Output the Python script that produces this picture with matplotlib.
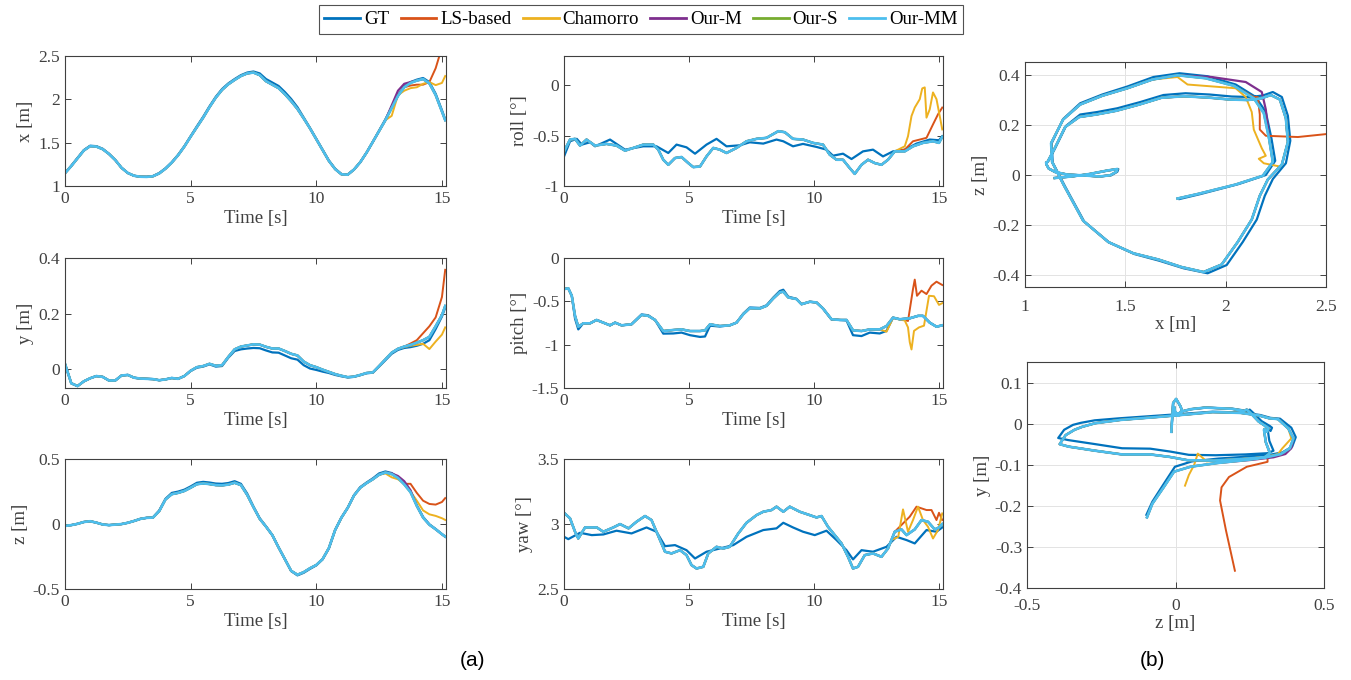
import numpy as np
import matplotlib.pyplot as plt
from matplotlib.ticker import FormatStrFormatter

plt.rcParams['font.family'] = ['Liberation Serif', 'DejaVu Serif']
plt.rcParams['axes.unicode_minus'] = False

# ---- position data (common time grid, used for time plots and trajectories)
t_pos = [0, 0.25, 0.5, 0.75, 1, 1.25, 1.5, 1.75, 2, 2.25, 2.5, 2.75, 3, 3.25, 3.5, 3.75,
         4, 4.25, 4.5, 4.75, 5, 5.25, 5.5, 5.75, 6, 6.25, 6.5, 6.75, 7, 7.25, 7.5, 7.75,
         8, 8.25, 8.5, 8.75, 9, 9.25, 9.5, 9.75, 10, 10.25, 10.5, 10.75, 11, 11.25, 11.5,
         11.75, 12, 12.25, 12.5, 12.75, 13, 13.25, 13.5, 13.75, 14, 14.25, 14.5, 14.75, 15, 15.13]

gt_x = [1.148, 1.235, 1.325, 1.415, 1.465, 1.46, 1.43, 1.372, 1.30, 1.21, 1.15, 1.118, 1.107,
        1.107, 1.115, 1.15, 1.205, 1.275, 1.36, 1.46, 1.575, 1.69, 1.80, 1.92, 2.03, 2.12,
        2.185, 2.235, 2.28, 2.31, 2.322, 2.30, 2.235, 2.195, 2.155, 2.085, 2.005, 1.91, 1.79,
        1.67, 1.545, 1.42, 1.295, 1.2, 1.138, 1.133, 1.19, 1.275, 1.385, 1.51, 1.64, 1.77,
        1.91, 2.05, 2.15, 2.20, 2.228, 2.247, 2.20, 2.065, 1.875, 1.77]
mm_x = [1.148, 1.23, 1.32, 1.41, 1.46, 1.455, 1.425, 1.37, 1.30, 1.21, 1.15, 1.118, 1.107,
        1.105, 1.112, 1.145, 1.20, 1.27, 1.355, 1.455, 1.57, 1.68, 1.79, 1.91, 2.02, 2.11,
        2.175, 2.225, 2.27, 2.30, 2.31, 2.28, 2.21, 2.17, 2.13, 2.06, 1.98, 1.89, 1.78,
        1.665, 1.54, 1.415, 1.29, 1.195, 1.135, 1.13, 1.19, 1.275, 1.385, 1.51, 1.635, 1.76,
        1.90, 2.04, 2.14, 2.19, 2.217, 2.235, 2.185, 2.05, 1.86, 1.76]

gt_y = [0.020, -0.05, -0.06, -0.043, -0.032, -0.024, -0.027, -0.040, -0.040, -0.022, -0.020,
        -0.030, -0.033, -0.034, -0.035, -0.039, -0.036, -0.031, -0.034, -0.024, -0.006, 0.006,
        0.010, 0.018, 0.010, 0.012, 0.042, 0.066, 0.072, 0.075, 0.077, 0.076, 0.068, 0.061,
        0.060, 0.050, 0.040, 0.035, 0.015, 0.003, -0.002, -0.008, -0.013, -0.020, -0.025,
        -0.029, -0.027, -0.021, -0.014, -0.012, 0.010, 0.033, 0.056, 0.070, 0.077, 0.080,
        0.085, 0.092, 0.105, 0.145, 0.19, 0.222]
mm_y = [0.020, -0.05, -0.06, -0.043, -0.032, -0.024, -0.027, -0.040, -0.040, -0.022, -0.020,
        -0.030, -0.033, -0.034, -0.035, -0.039, -0.036, -0.031, -0.034, -0.024, -0.005, 0.008,
        0.012, 0.020, 0.013, 0.015, 0.045, 0.072, 0.082, 0.086, 0.090, 0.089, 0.081, 0.075,
        0.075, 0.066, 0.056, 0.050, 0.028, 0.015, 0.008, -0.001, -0.009, -0.017, -0.023,
        -0.028, -0.026, -0.020, -0.013, -0.011, 0.012, 0.036, 0.060, 0.074, 0.082, 0.088,
        0.096, 0.105, 0.117, 0.155, 0.195, 0.228]

gt_z = [-0.014, -0.008, 0.002, 0.016, 0.022, 0.011, -0.003, -0.008, -0.004, 0.000, 0.010,
        0.024, 0.040, 0.048, 0.052, 0.105, 0.195, 0.24, 0.25, 0.265, 0.29, 0.318, 0.325, 0.32,
        0.312, 0.31, 0.316, 0.33, 0.31, 0.235, 0.135, 0.045, -0.018, -0.085, -0.18, -0.27,
        -0.362, -0.395, -0.375, -0.345, -0.318, -0.272, -0.188, -0.048, 0.048, 0.125, 0.222,
        0.285, 0.32, 0.352, 0.39, 0.405, 0.393, 0.36, 0.31, 0.25, 0.145, 0.055, -0.002,
        -0.038, -0.078, -0.098]
mm_z = [-0.014, -0.008, 0.002, 0.016, 0.022, 0.011, -0.003, -0.008, -0.004, 0.000, 0.010,
        0.024, 0.040, 0.048, 0.050, 0.10, 0.19, 0.23, 0.24, 0.255, 0.28, 0.307, 0.313, 0.308,
        0.30, 0.298, 0.304, 0.318, 0.30, 0.225, 0.13, 0.04, -0.02, -0.085, -0.18, -0.27,
        -0.36, -0.39, -0.37, -0.34, -0.315, -0.27, -0.185, -0.045, 0.05, 0.125, 0.22, 0.28,
        0.315, 0.345, 0.38, 0.397, 0.385, 0.355, 0.305, 0.245, 0.14, 0.05, -0.005, -0.04,
        -0.078, -0.096]

# end segments where the other methods leave the common path
t_tail = [12.75, 13.0, 13.25, 13.5, 13.75, 14.0, 14.25, 14.5, 14.75, 15.0, 15.13]
ls_x_tail = [1.76, 1.90, 2.04, 2.14, 2.16, 2.17, 2.17, 2.20, 2.36, 2.60, 2.75]
ls_y_tail = [0.036, 0.060, 0.074, 0.082, 0.093, 0.105, 0.13, 0.155, 0.187, 0.26, 0.358]
ls_z_tail = [0.397, 0.385, 0.355, 0.31, 0.31, 0.24, 0.18, 0.155, 0.15, 0.17, 0.20]
ch_x_tail = [1.76, 1.81, 2.05, 2.10, 2.13, 2.14, 2.18, 2.20, 2.165, 2.19, 2.27]
ch_y_tail = [0.036, 0.060, 0.074, 0.080, 0.085, 0.088, 0.092, 0.073, 0.10, 0.125, 0.151]
ch_z_tail = [0.39, 0.36, 0.345, 0.31, 0.25, 0.18, 0.105, 0.075, 0.063, 0.045, 0.032]
om_x_tail = [1.76, 1.93, 2.10, 2.18, 2.20, 2.217, 2.235, 2.185, 2.05, 1.86, 1.76]
om_y_tail = [0.036, 0.060, 0.074, 0.082, 0.088, 0.096, 0.105, 0.117, 0.155, 0.195, 0.228]
om_z_tail = [0.397, 0.39, 0.37, 0.33, 0.26, 0.14, 0.05, -0.005, -0.04, -0.078, -0.096]

# ---- orientation data
t_roll = [0, 0.24, 0.44, 0.64, 0.9, 1.24, 1.7, 2.1, 2.44, 2.77, 3.17, 3.57, 3.77, 3.97, 4.17,
          4.44, 4.7, 4.97, 5.17, 5.44, 5.7, 5.97, 6.23, 6.5, 6.9, 7.3, 7.7, 8.1, 8.57, 8.83,
          9.16, 9.56, 9.96, 10.36, 10.63, 10.9, 11.16, 11.43, 11.63, 11.9, 12.16, 12.43, 12.7,
          12.96, 13.23, 13.63, 13.96, 14.36, 14.76, 15.0, 15.13]
mm_roll = [-0.657, -0.54, -0.533, -0.6, -0.54, -0.6, -0.583, -0.6, -0.65, -0.623, -0.59, -0.59,
           -0.64, -0.74, -0.79, -0.723, -0.713, -0.773, -0.813, -0.807, -0.707, -0.623, -0.64,
           -0.673, -0.623, -0.557, -0.533, -0.523, -0.457, -0.467, -0.533, -0.54, -0.573, -0.59,
           -0.69, -0.74, -0.74, -0.823, -0.88, -0.79, -0.74, -0.773, -0.79, -0.74, -0.657,
           -0.657, -0.607, -0.573, -0.557, -0.573, -0.513]
t_roll_gt = [0, 0.24, 0.51, 0.71, 1.04, 1.24, 1.84, 2.44, 3.17, 3.7, 4.17, 4.5, 4.9, 5.24, 5.7,
             6.1, 6.5, 7.03, 7.43, 7.97, 8.5, 8.77, 9.16, 9.56, 10.1, 10.5, 10.76, 11.16, 11.5,
             11.96, 12.36, 12.76, 13.16, 13.63, 14.1, 14.63, 15.0, 15.13]
gt_roll = [-0.707, -0.557, -0.533, -0.59, -0.567, -0.607, -0.54, -0.64, -0.607, -0.607, -0.673,
           -0.59, -0.617, -0.68, -0.59, -0.533, -0.607, -0.597, -0.567, -0.58, -0.54, -0.557,
           -0.607, -0.583, -0.613, -0.64, -0.70, -0.68, -0.733, -0.657, -0.64, -0.707, -0.657,
           -0.64, -0.58, -0.54, -0.547, -0.507]
t_roll_ls = [13.63, 13.96, 14.23, 14.5, 14.76, 14.96, 15.13]
ls_roll = [-0.64, -0.557, -0.54, -0.523, -0.39, -0.29, -0.223]
t_roll_ch = [13.5, 13.63, 13.76, 13.9, 14.03, 14.23, 14.33, 14.43, 14.5, 14.63, 14.76, 14.9,
             15.03, 15.13]
ch_roll = [-0.623, -0.607, -0.507, -0.307, -0.223, -0.14, -0.033, -0.023, -0.323, -0.24,
           -0.073, -0.14, -0.307, -0.44]

t_pitch = [0, 0.17, 0.31, 0.44, 0.57, 0.77, 1.04, 1.3, 1.57, 1.84, 2.04, 2.3, 2.7, 3.1, 3.37,
           3.64, 3.97, 4.37, 4.7, 5.04, 5.44, 5.64, 5.84, 6.23, 6.63, 6.9, 7.17, 7.43, 7.83,
           8.1, 8.37, 8.63, 8.77, 8.97, 9.3, 9.5, 9.83, 10.1, 10.36, 10.7, 11.03, 11.3, 11.56,
           11.9, 12.23, 12.63, 12.9, 13.16, 13.43, 13.83, 14.16, 14.36, 14.63, 14.9, 15.13]
mm_pitch = [-0.357, -0.349, -0.435, -0.667, -0.792, -0.753, -0.753, -0.714, -0.745, -0.776,
            -0.745, -0.776, -0.764, -0.656, -0.667, -0.714, -0.842, -0.83, -0.823, -0.842,
            -0.842, -0.834, -0.764, -0.784, -0.776, -0.745, -0.648, -0.578, -0.582, -0.551,
            -0.466, -0.396, -0.388, -0.454, -0.473, -0.532, -0.504, -0.512, -0.582, -0.706,
            -0.714, -0.714, -0.834, -0.842, -0.823, -0.823, -0.784, -0.687, -0.706, -0.695,
            -0.667, -0.667, -0.745, -0.792, -0.776]
gt_pitch = [-0.357, -0.349, -0.435, -0.70, -0.823, -0.753, -0.753, -0.714, -0.745, -0.776,
            -0.745, -0.776, -0.764, -0.650, -0.660, -0.714, -0.872, -0.87, -0.86, -0.89,
            -0.91, -0.905, -0.78, -0.79, -0.776, -0.745, -0.640, -0.570, -0.575, -0.545,
            -0.455, -0.380, -0.365, -0.445, -0.470, -0.532, -0.504, -0.512, -0.582, -0.71,
            -0.714, -0.72, -0.89, -0.90, -0.86, -0.87, -0.84, -0.69, -0.706, -0.695,
            -0.667, -0.667, -0.745, -0.792, -0.776]
t_pitch_ls = [13.43, 13.63, 13.76, 13.96, 14.03, 14.12, 14.3, 14.5, 14.7, 14.9, 15.13]
ls_pitch = [-0.706, -0.714, -0.726, -0.357, -0.248, -0.435, -0.376, -0.415, -0.318, -0.272, -0.31]
t_pitch_ch = [12.63, 12.9, 13.16, 13.43, 13.63, 13.76, 13.83, 13.9, 14.0, 14.2, 14.4, 14.6,
              14.8, 15.0, 15.13]
ch_pitch = [-0.823, -0.85, -0.69, -0.71, -0.72, -0.8, -0.97, -1.055, -0.84, -0.8, -0.78,
            -0.435, -0.44, -0.54, -0.52]

t_yaw = [0, 0.24, 0.44, 0.57, 0.84, 1.31, 1.57, 1.97, 2.24, 2.58, 2.9, 3.24, 3.5, 3.84, 4.04,
         4.3, 4.64, 4.9, 5.1, 5.3, 5.57, 5.77, 6.1, 6.37, 6.63, 6.97, 7.3, 7.7, 7.97, 8.3, 8.5,
         8.77, 9.03, 9.43, 9.83, 10.1, 10.3, 10.56, 10.83, 11.1, 11.36, 11.56, 11.76, 12.03,
         12.36, 12.7, 12.96, 13.23, 13.5, 13.7, 14.03, 14.3, 14.56, 14.83, 15.0, 15.13]
mm_yaw = [3.087, 3.044, 2.941, 2.889, 2.974, 2.974, 2.941, 2.974, 3.0, 2.967, 3.018, 3.062,
          3.031, 2.877, 2.787, 2.774, 2.799, 2.761, 2.684, 2.658, 2.671, 2.774, 2.825, 2.812,
          2.825, 2.928, 3.010, 3.069, 3.095, 3.108, 3.134, 3.095, 3.134, 3.095, 3.069, 3.051,
          3.062, 2.979, 2.915, 2.851, 2.748, 2.658, 2.671, 2.761, 2.774, 2.748, 2.812, 2.941,
          2.959, 2.915, 2.959, 3.031, 3.018, 2.959, 2.974, 3.0]
t_yaw_gt = [0, 0.17, 0.64, 1.11, 1.57, 2.1, 2.7, 3.3, 3.7, 4.04, 4.44, 4.9, 5.24, 5.7, 6.23,
            6.77, 7.3, 7.97, 8.5, 8.77, 9.16, 9.56, 10.03, 10.5, 10.9, 11.3, 11.56, 11.9,
            12.36, 12.9, 13.3, 13.7, 14.03, 14.5, 14.9, 15.13]
gt_yaw = [2.902, 2.884, 2.933, 2.915, 2.920, 2.949, 2.928, 2.974, 2.941, 2.830, 2.838, 2.799,
          2.735, 2.787, 2.812, 2.838, 2.902, 2.954, 2.967, 3.010, 2.974, 2.941, 2.915, 2.949,
          2.877, 2.799, 2.728, 2.799, 2.787, 2.825, 2.902, 2.877, 2.851, 2.954, 2.941, 2.974]
t_yaw_ls = [13.23, 13.56, 13.83, 14.1, 14.3, 14.5, 14.7, 14.9, 15.0, 15.13]
ls_yaw = [2.941, 3.005, 3.057, 3.134, 3.121, 3.108, 3.108, 3.031, 3.087, 3.031]
t_yaw_ch = [13.1, 13.37, 13.56, 13.76, 13.96, 14.16, 14.36, 14.56, 14.76, 14.96, 15.13]
ch_yaw = [2.877, 2.902, 3.113, 2.941, 3.031, 3.134, 3.031, 2.979, 2.889, 2.954, 3.082]

methods = ['GT', 'LS-based', 'Chamorro', 'Our-M', 'Our-S', 'Our-MM']
colors = ['#0072BD', '#D95319', '#EDB120', '#7E2F8E', '#77AC30', '#4DBEEE']
widths = [1.6, 1.4, 1.4, 1.6, 1.6, 1.9]


def join(tb, vb, tt, vt):
    # common part of the estimate followed by the method's own end segment
    k = int(np.searchsorted(tb, tt[0]))
    return list(tb[:k]) + list(tt), list(vb[:k]) + list(vt)


k_tail = t_pos.index(t_tail[0])
pos = {}
for name, (xs, ys, zs) in {
        'GT': (gt_x, gt_y, gt_z),
        'LS-based': (mm_x[:k_tail] + ls_x_tail, mm_y[:k_tail] + ls_y_tail, mm_z[:k_tail] + ls_z_tail),
        'Chamorro': (mm_x[:k_tail] + ch_x_tail, mm_y[:k_tail] + ch_y_tail, mm_z[:k_tail] + ch_z_tail),
        'Our-M': (mm_x[:k_tail] + om_x_tail, mm_y[:k_tail] + om_y_tail, mm_z[:k_tail] + om_z_tail),
        'Our-S': (mm_x, mm_y, mm_z),
        'Our-MM': (mm_x, mm_y, mm_z)}.items():
    pos[name] = (np.array(xs), np.array(ys), np.array(zs))

ang = {}
for key, (tm, vm, tg, vg, tl, vl, tc, vc) in {
        'roll': (t_roll, mm_roll, t_roll_gt, gt_roll, t_roll_ls, ls_roll, t_roll_ch, ch_roll),
        'pitch': (t_pitch, mm_pitch, t_pitch, gt_pitch, t_pitch_ls, ls_pitch, t_pitch_ch, ch_pitch),
        'yaw': (t_yaw, mm_yaw, t_yaw_gt, gt_yaw, t_yaw_ls, ls_yaw, t_yaw_ch, ch_yaw)}.items():
    ang[key] = {'GT': (tg, vg), 'LS-based': join(tm, vm, tl, vl),
                'Chamorro': join(tm, vm, tc, vc), 'Our-M': (tm, vm),
                'Our-S': (tm, vm), 'Our-MM': (tm, vm)}

fig = plt.figure(figsize=(13.51, 6.8), dpi=100)
axc = '#404040'


def style(ax, grid=False, xpad=3.5):
    for s in ax.spines.values():
        s.set_color(axc)
        s.set_linewidth(0.8)
    ax.tick_params(direction='in', top=True, right=True, length=4, width=0.7,
                   colors=axc, labelsize=12.5, labelcolor=axc)
    ax.tick_params(axis='x', pad=xpad)
    ax.xaxis.set_major_formatter(FormatStrFormatter('%g'))
    ax.yaxis.set_major_formatter(FormatStrFormatter('%g'))
    if grid:
        ax.grid(True, color='#e3e3e3', linewidth=0.7)
        ax.set_axisbelow(True)


lab = dict(fontsize=13.5, color=axc)
col_left = [0.0481, 0.4175]
col_w = [0.282, 0.2805]
rows = [0.7265, 0.4294, 0.1338]
row_h = 0.191

# position vs time
pos_specs = [(0, 'x [m]', (1, 2.5), [1, 1.5, 2, 2.5]),
             (1, 'y [m]', (-0.067, 0.4), [0, 0.2, 0.4]),
             (2, 'z [m]', (-0.5, 0.5), [-0.5, 0, 0.5])]
for i, ylab, ylim, yt in pos_specs:
    ax = fig.add_axes([col_left[0], rows[i], col_w[0], row_h])
    for m, c, w in zip(methods, colors, widths):
        ax.plot(t_pos, pos[m][i], color=c, lw=w, label=m)
    ax.set_xlim(0, 15.16)
    ax.set_ylim(*ylim)
    ax.set_yticks(yt)
    ax.set_xticks([0, 5, 10, 15])
    ax.set_xlabel('Time [s]', labelpad=2, **lab)
    ax.set_ylabel(ylab, labelpad=3, **lab)
    style(ax)
    if i == 0:
        leg_ax = ax

# orientation vs time
ang_specs = [(0, 'roll', 'roll [°]', (-1, 0.287), [-1, -0.5, 0]),
             (1, 'pitch', 'pitch [°]', (-1.5, 0), [-1.5, -1, -0.5, 0]),
             (2, 'yaw', 'yaw [°]', (2.5, 3.5), [2.5, 3, 3.5])]
for i, key, ylab, ylim, yt in ang_specs:
    ax = fig.add_axes([col_left[1], rows[i], col_w[1], row_h])
    for m, c, w in zip(methods, colors, widths):
        tt, vv = ang[key][m]
        ax.plot(tt, vv, color=c, lw=w)
    ax.set_xlim(0, 15.16)
    ax.set_ylim(*ylim)
    ax.set_yticks(yt)
    ax.set_xticks([0, 5, 10, 15])
    ax.set_xlabel('Time [s]', labelpad=2, **lab)
    ax.set_ylabel(ylab, labelpad=3, **lab)
    style(ax)

# trajectories
ax = fig.add_axes([0.7587, 0.5779, 0.2228, 0.3309])
for m, c, w in zip(methods, colors, widths):
    ax.plot(pos[m][0], pos[m][2], color=c, lw=w)
ax.set_xlim(1, 2.5)
ax.set_ylim(-0.45, 0.45)
ax.set_xticks([1, 1.5, 2, 2.5])
ax.set_yticks([-0.4, -0.2, 0, 0.2, 0.4])
ax.set_xlabel('x [m]', labelpad=1, **lab)
ax.set_ylabel('z [m]', labelpad=3, **lab)
style(ax, grid=True, xpad=8.5)

ax = fig.add_axes([0.7602, 0.1353, 0.2198, 0.3324])
for m, c, w in zip(methods, colors, widths):
    ax.plot(pos[m][2], -pos[m][1], color=c, lw=w)
ax.set_xlim(-0.5, 0.5)
ax.set_ylim(-0.4, 0.15)
ax.set_xticks([-0.5, 0, 0.5])
ax.set_yticks([-0.4, -0.3, -0.2, -0.1, 0, 0.1])
ax.set_xlabel('z [m]', labelpad=1, **lab)
ax.set_ylabel('y [m]', labelpad=3, **lab)
style(ax, grid=True, xpad=7)

h, l = leg_ax.get_legend_handles_labels()
leg = fig.legend(h, l, loc='center', bbox_to_anchor=(0.4745, 0.971), ncol=6,
                 fontsize=13.6, frameon=True, fancybox=False, edgecolor='#262626',
                 handlelength=1.9, handletextpad=0.2, columnspacing=0.6,
                 borderpad=0.3, borderaxespad=0)
leg.get_frame().set_linewidth(0.8)
for line in leg.get_lines():
    line.set_linewidth(2)

fig.text(0.350, 0.029, '(a)', ha='center', va='center', fontsize=15,
         family=['Liberation Sans', 'DejaVu Sans'])
fig.text(0.853, 0.029, '(b)', ha='center', va='center', fontsize=15,
         family=['Liberation Sans', 'DejaVu Sans'])

fig.savefig('out.png', dpi=100)
